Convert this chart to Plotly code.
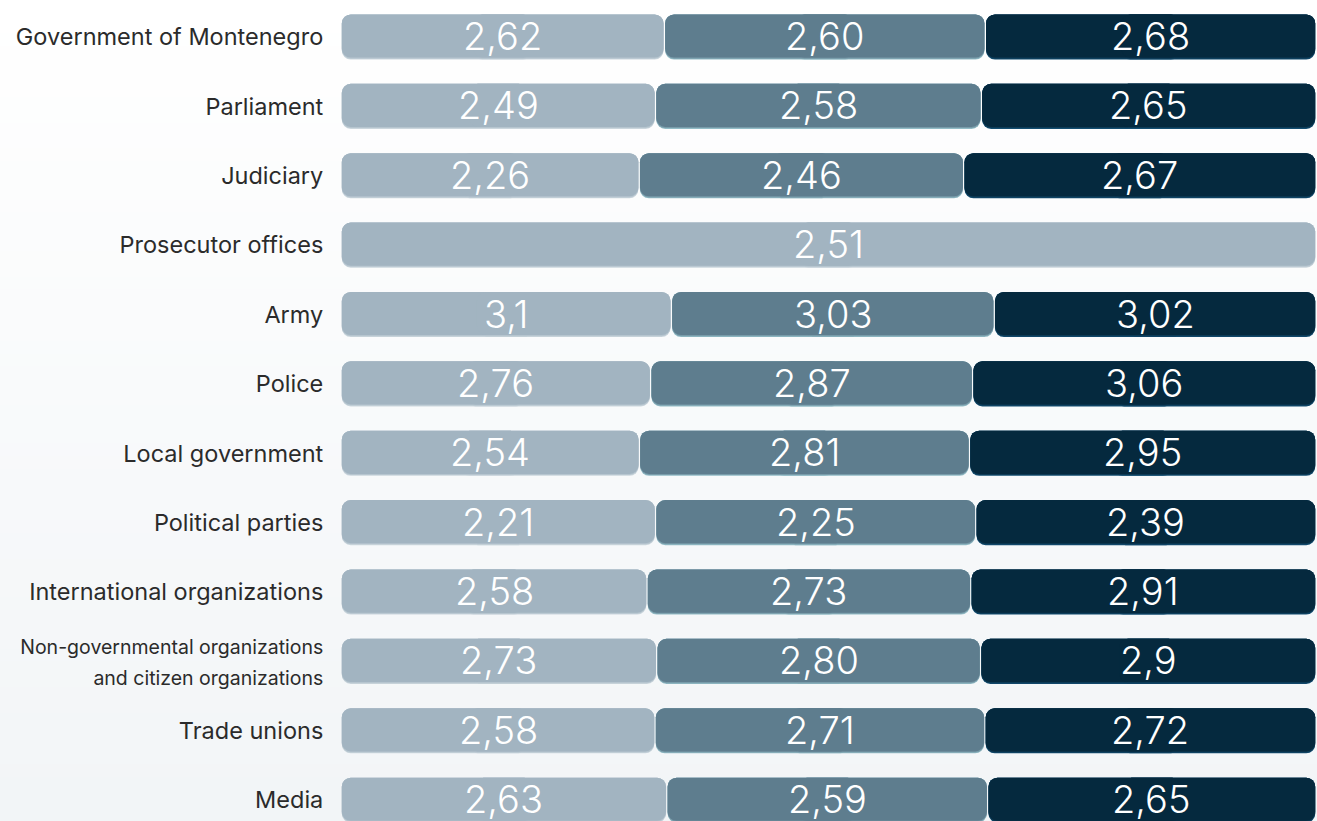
import base64
import struct
import zlib

import plotly.graph_objects as go

categories = [
    "Government of Montenegro", "Parliament", "Judiciary", "Prosecutor offices",
    "Army", "Police", "Local government", "Political parties",
    "International organizations",
    "Non-governmental organizations<br>and citizen organizations",
    "Trade unions", "Media",
]
tick_labels = [
    "Government of Montenegro", "Parliament", "Judiciary", "Prosecutor offices",
    "Army", "Police", "Local government", "Political parties",
    "International organizations",
    "<span style='font-size:19.5px'>Non-governmental organizations<br>and citizen organizations</span>",
    "Trade unions", "Media",
]
series1 = [2.62, 2.49, 2.26, 2.51, 3.1, 2.76, 2.54, 2.21, 2.58, 2.73, 2.58, 2.63]
series2 = [2.60, 2.58, 2.46, None, 3.03, 2.87, 2.81, 2.25, 2.73, 2.80, 2.71, 2.59]
series3 = [2.68, 2.65, 2.67, None, 3.02, 3.06, 2.95, 2.39, 2.91, 2.9, 2.72, 2.65]
labels1 = ["2,62", "2,49", "2,26", "2,51", "3,1", "2,76", "2,54", "2,21", "2,58", "2,73", "2,58", "2,63"]
labels2 = ["2,60", "2,58", "2,46", "", "3,03", "2,87", "2,81", "2,25", "2,73", "2,80", "2,71", "2,59"]
labels3 = ["2,68", "2,65", "2,67", "", "3,02", "3,06", "2,95", "2,39", "2,91", "2,9", "2,72", "2,65"]

colors = ["#a2b4c1", "#5e7d8e", "#05293e"]
glow = ["#cbd6dd", "#92bcc6", "#134d70"]

series = [series1, series2, series3]
labels = [labels1, labels2, labels3]

W, H = 1317, 821
ML, MR = 341, 1


# ---- soft vertical background gradient (white -> light grey) as a tiny PNG ----
def gradient_png(top, bottom, n=64):
    rows = b""
    for r in range(n):
        t = r / (n - 1)
        px = bytes(int(round(a + (b - a) * t)) for a, b in zip(top, bottom))
        rows += b"\x00" + px
    def chunk(tag, data):
        c = struct.pack(">I", len(data)) + tag + data
        return c + struct.pack(">I", zlib.crc32(tag + data) & 0xFFFFFFFF)
    png = b"\x89PNG\r\n\x1a\n"
    png += chunk(b"IHDR", struct.pack(">IIBBBBB", 1, n, 8, 2, 0, 0, 0))
    png += chunk(b"IDAT", zlib.compress(rows))
    png += chunk(b"IEND", b"")
    return "data:image/png;base64," + base64.b64encode(png).decode()


bg_src = gradient_png((255, 255, 255), (242, 245, 247))

# percent-normalised start/end of each segment
starts = [[None] * len(categories) for _ in series]
ends = [[None] * len(categories) for _ in series]
for i in range(len(categories)):
    vals = [s[i] for s in series]
    total = sum(v for v in vals if v is not None)
    acc = 0.0
    for k, v in enumerate(vals):
        if v is None:
            continue
        starts[k][i] = acc / total * 100
        acc += v
        ends[k][i] = acc / total * 100

gap = 0.08
overlap = 3.0
fig = go.Figure()

layers = [
    ("glow", 0.65, -0.325),
    ("mid", 0.638, -0.325),
    ("main", 0.622, -0.325),
]


def mix(c1, c2):
    a = [int(c1[j:j + 2], 16) for j in (1, 3, 5)]
    b = [int(c2[j:j + 2], 16) for j in (1, 3, 5)]
    return "#%02x%02x%02x" % tuple((x + y) // 2 for x, y in zip(a, b))


annotations = []
for k in range(3):
    mids = []
    halves = []
    for i in range(len(categories)):
        if starts[k][i] is None:
            mids.append(None)
            halves.append(None)
            continue
        s0 = starts[k][i] + gap
        e0 = ends[k][i] - gap
        mids.append((s0 + e0) / 2)
        halves.append((e0 - s0) / 2)
    for name, w, off in layers:
        col = {"glow": glow[k], "mid": mix(glow[k], colors[k]), "main": colors[k]}[name]
        # left half: grows leftwards from past the middle (rounded left end)
        fig.add_trace(go.Bar(
            y=categories,
            x=[-(h + overlap) if h is not None else None for h in halves],
            base=[m + overlap if m is not None else None for m in mids],
            orientation="h", width=w, offset=off,
            marker=dict(color=col, cornerradius=9, line=dict(width=0)),
            hoverinfo="skip", showlegend=False,
        ))
        # right half: grows rightwards from before the middle (rounded right end)
        fig.add_trace(go.Bar(
            y=categories,
            x=[(h + overlap) if h is not None else None for h in halves],
            base=[m - overlap if m is not None else None for m in mids],
            orientation="h", width=w, offset=off,
            marker=dict(color=col, cornerradius=9, line=dict(width=0)),
            hoverinfo="skip", showlegend=False,
        ))
    for i, cat in enumerate(categories):
        if mids[i] is None or not labels[k][i]:
            continue
        annotations.append(dict(
            x=mids[i], y=cat, xref="x", yref="y", text=labels[k][i],
            showarrow=False, xanchor="center", yanchor="middle", yshift=1,
            font=dict(color="white", size=38, family="Inter", weight=300),
        ))

fig.update_layout(
    width=W, height=H,
    margin=dict(l=ML, r=MR, t=0, b=0),
    paper_bgcolor="#fbfcfc", plot_bgcolor="rgba(0,0,0,0)",
    barmode="overlay",
    xaxis=dict(range=[0, 100], visible=False, fixedrange=True),
    yaxis=dict(
        type="category", categoryorder="array", categoryarray=categories,
        range=[11.3, -0.533], fixedrange=True,
        tickvals=categories, ticktext=tick_labels,
        ticks="outside", ticklen=12, tickcolor="rgba(0,0,0,0)",
        showgrid=False, zeroline=False, showline=False,
        tickfont=dict(family="Inter", size=23.5, color="#2b2b2b"),
    ),
    font=dict(family="Inter"),
    annotations=annotations,
    images=[dict(
        source=bg_src, xref="paper", yref="paper",
        x=-ML / (W - ML - MR), y=1, sizex=W / (W - ML - MR), sizey=1,
        xanchor="left", yanchor="top", sizing="stretch", layer="below",
    )],
)

fig.write_html(
    "out.html",
    config={"displayModeBar": False},
    post_script="document.body.style.margin='0';document.body.style.overflow='hidden';",
)
